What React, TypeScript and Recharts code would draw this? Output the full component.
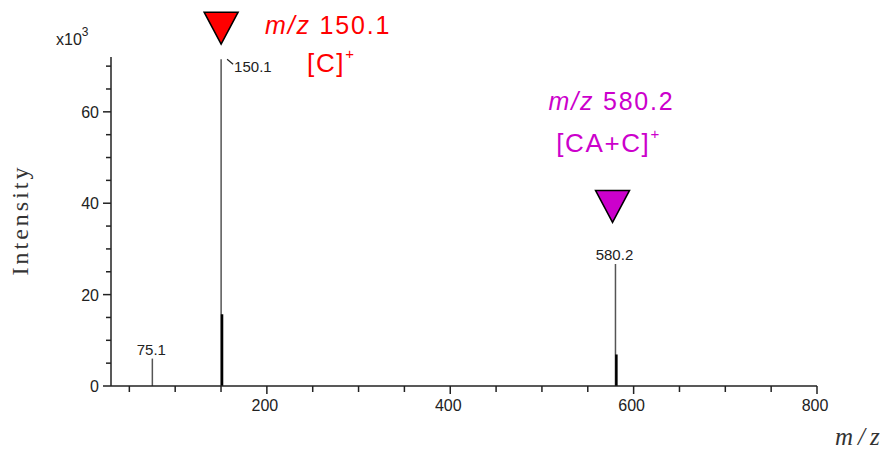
import React from 'react';
import { ComposedChart, XAxis, YAxis, ReferenceLine, ReferenceDot } from 'recharts';

// stick spectrum, intensity in x10^3
const peakMz = [75.1, 150.1, 151.1, 580.2, 581.2];
const peakIntensity = [6.0, 71.5, 15.7, 26.7, 6.9];
const peakLabels = ['75.1', '150.1', '', '580.2', ''];

// annotated ions (triangle markers)
const markerMz = [150.1, 577];
const markerTop = [74.8, 35.8];
const markerTitles = ['150.1', '580.2'];
const markerIons = ['[C]', '[CA+C]'];

const xTicks = [50, 100, 150, 200, 250, 300, 350, 400, 450, 500, 550, 600, 650, 700, 750, 800];
const xTickLabels = [200, 400, 600, 800];
const yTicks = [0, 5, 10, 15, 20, 25, 30, 35, 40, 45, 50, 55, 60, 65, 70];
const yTickLabels = [0, 20, 40, 60];

const AXIS = '#222';
const TICK_FONT = '"Liberation Sans", Arial, sans-serif';
const SERIF = '"Liberation Serif", "Times New Roman", serif';
const MARKER_COLORS = ['#ff0000', '#cc00cc'];
// text placement relative to the triangle tip
const MARKER_LAYOUT = [
  { tx: 44, ty: -10, ix: 86, iy: 28, anchor: 'start' },
  { tx: -1, ty: -112, ix: -4, iy: -70, anchor: 'middle' },
];

const peaks = peakMz.map((mz, i) => ({ mz, intensity: peakIntensity[i], label: peakLabels[i] }));
const markers = markerMz.map((mz, i) => ({ mz, top: markerTop[i], title: markerTitles[i], ion: markerIons[i] }));

const XTick = ({ x, y, payload }: any) => {
  const major = xTickLabels.includes(payload.value);
  return (
    <g>
      <line x1={x} y1={y} x2={x} y2={y + (major ? 8 : 6)} stroke={AXIS} strokeWidth={1.5} />
      {major && (
        <text x={x - 2} y={y + 25} textAnchor="middle" fontSize={16} fontFamily={TICK_FONT} fill={AXIS}>
          {payload.value}
        </text>
      )}
    </g>
  );
};

const YTick = ({ x, y, payload }: any) => {
  const major = yTickLabels.includes(payload.value);
  return (
    <g>
      <line x1={x - (major ? 8 : 5)} y1={y} x2={x} y2={y} stroke={AXIS} strokeWidth={1.5} />
      {major && (
        <text x={x - 12} y={y + 6} textAnchor="end" fontSize={16} fontFamily={TICK_FONT} fill={AXIS}>
          {payload.value}
        </text>
      )}
    </g>
  );
};

const PeakLabel = ({ cx, cy, text, side }: any) => {
  if (side === 'right') {
    return (
      <g>
        <line x1={cx + 6} y1={cy} x2={cx + 12} y2={cy + 5} stroke={AXIS} strokeWidth={1.2} />
        <text x={cx + 13} y={cy + 13} fontSize={15} fontFamily={TICK_FONT} fill={AXIS}>
          {text}
        </text>
      </g>
    );
  }
  return (
    <text x={cx - 1} y={cy - 4} textAnchor="middle" fontSize={15} fontFamily={TICK_FONT} fill={AXIS}>
      {text}
    </text>
  );
};

const Marker = ({ cx, cy, color, layout, title, ion }: any) => (
  <g>
    <polygon
      points={`${cx - 17},${cy - 32} ${cx + 17},${cy - 32} ${cx},${cy}`}
      fill={color}
      stroke="#000"
      strokeWidth={1.5}
      strokeLinejoin="miter"
    />
    <text
      x={cx + layout.tx}
      y={cy + layout.ty}
      textAnchor={layout.anchor}
      fontSize={25}
      letterSpacing={1.8}
      fontFamily={TICK_FONT}
      fill={color}
    >
      <tspan fontStyle="italic">m/z</tspan> {title}
    </text>
    <text
      x={cx + layout.ix}
      y={cy + layout.iy}
      textAnchor={layout.anchor}
      fontSize={26}
      letterSpacing={1.6}
      fontFamily={TICK_FONT}
      fill={color}
    >
      {ion}
      <tspan fontSize={15} dy={-13}>+</tspan>
    </text>
  </g>
);

export default function App() {
  return (
    <div style={{ position: 'absolute', left: 0, top: 0, width: 884, height: 450, background: '#fff' }}>
      <ComposedChart width={884} height={450} data={peaks} margin={{ top: 57, right: 67, bottom: 34, left: 0 }}>
        <XAxis
          type="number"
          dataKey="mz"
          domain={[30, 800]}
          ticks={xTicks}
          allowDataOverflow
          height={30}
          tickSize={0}
          tickMargin={0}
          tickLine={false}
          interval={0}
          axisLine={{ stroke: AXIS, strokeWidth: 1.5 }}
          tick={<XTick />}
        />
        <YAxis
          type="number"
          domain={[0, 72]}
          ticks={yTicks}
          allowDataOverflow
          width={111}
          tickSize={0}
          tickMargin={0}
          tickLine={false}
          interval={0}
          axisLine={{ stroke: AXIS, strokeWidth: 1.5 }}
          tick={<YTick />}
        />

        {peaks.map((p) => (
          <ReferenceLine
            key={`line-${p.mz}`}
            segment={[
              { x: p.mz, y: 0 },
              { x: p.mz, y: p.intensity },
            ]}
            stroke={p.label ? '#555' : '#000'}
            strokeWidth={p.label ? 1.5 : 2.5}
            ifOverflow="visible"
          />
        ))}

        {peaks
          .filter((p) => p.label)
          .map((p) => (
            <ReferenceDot
              key={`lbl-${p.mz}`}
              x={p.mz}
              y={p.intensity}
              r={0}
              ifOverflow="visible"
              shape={(props: any) => (
                <PeakLabel cx={props.cx} cy={props.cy} text={p.label} side={p.intensity > 60 ? 'right' : 'top'} />
              )}
            />
          ))}

        {markers.map((m, i) => (
          <ReferenceDot
            key={`mk-${m.mz}`}
            x={m.mz}
            y={m.top}
            r={0}
            ifOverflow="visible"
            shape={(props: any) => (
              <Marker
                cx={props.cx}
                cy={props.cy}
                color={MARKER_COLORS[i]}
                layout={MARKER_LAYOUT[i]}
                title={m.title}
                ion={m.ion}
              />
            )}
          />
        ))}

        <text x={56} y={45} fontSize={16} fontFamily={TICK_FONT} fill={AXIS}>
          x10<tspan fontSize={12} dy={-9}>3</tspan>
        </text>
        <text
          x={28}
          y={220}
          transform="rotate(-90 28 220)"
          textAnchor="middle"
          fontSize={24}
          letterSpacing={3}
          fontFamily={SERIF}
          fill="#333"
        >
          Intensity
        </text>
        <text x={835} y={445} fontSize={25} fontStyle="italic" letterSpacing={5} fontFamily={SERIF} fill="#333">
          m/z
        </text>
      </ComposedChart>
    </div>
  );
}
